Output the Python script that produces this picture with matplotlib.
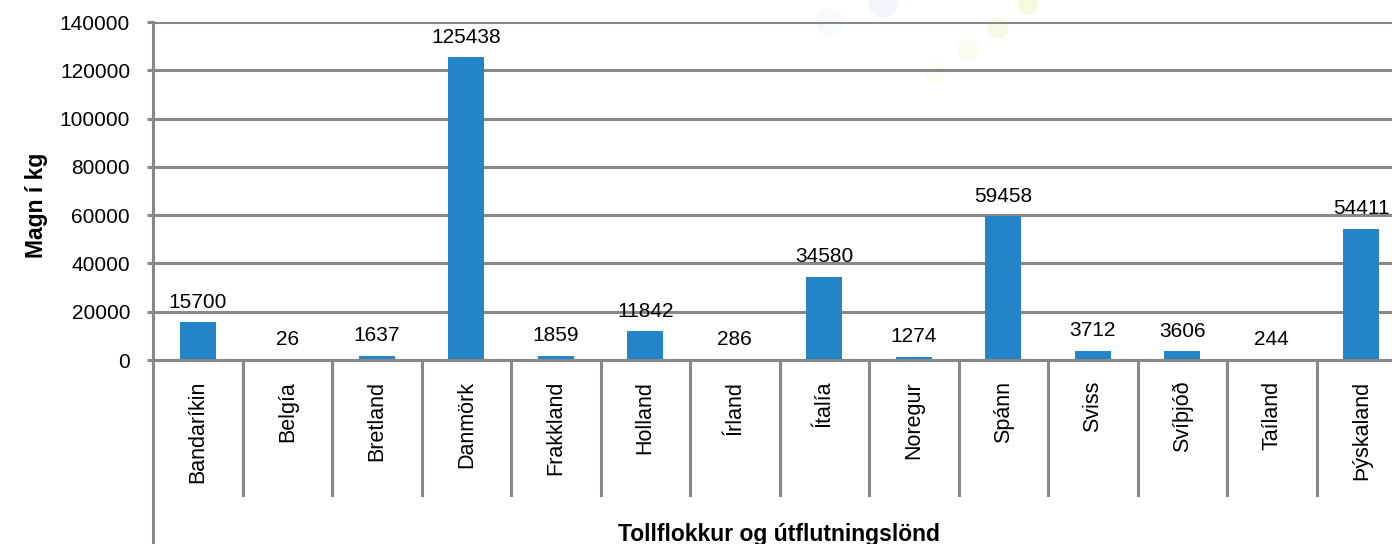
import numpy as np
import matplotlib.pyplot as plt
from matplotlib.patches import Circle
from matplotlib.lines import Line2D
import matplotlib.transforms as mtransforms

lond = ["Bandaríkin", "Belgía", "Bretland", "Danmörk", "Frakkland", "Holland",
        "Írland", "Ítalía", "Noregur", "Spánn", "Sviss", "Svíþjóð", "Taíland",
        "Þýskaland"]
magn = [15700, 26, 1637, 125438, 1859, 11842, 286, 34580, 1274, 59458,
        3712, 3606, 244, 54411]

plt.rcParams['font.family'] = ['Liberation Sans', 'DejaVu Sans']
grar = '#888888'
blar = '#2385C8'
lw = 2.2

W, H = 1392, 544
fig = plt.figure(figsize=(W / 100, H / 100), dpi=100)

# ás: x frá 153 til ~1406 px, y frá 22 til 360 px
x0, x1 = 153, 1406
y0, y1 = 360, 22
ax = fig.add_axes([x0 / W, 1 - y0 / H, (x1 - x0) / W, (y0 - y1) / H])
ax.patch.set_visible(False)

# daufir hringir í bakgrunni
hringir = [(830, 22, 13, '#F7FAFD'), (883, 3, 14, '#F1F6FC'), (1028, 4, 10, '#F7F9E0'),
           (998, 28, 10, '#F8FAE6'), (968, 50, 10, '#F9FBEC'), (935, 73, 10, '#FBFCF2')]
for cx, cy, r, c in hringir:
    fig.patches.append(Circle((cx, H - cy), r, transform=None, color=c, zorder=-5))

x = np.arange(len(lond))
ax.bar(x, magn, width=0.4, color=blar, zorder=3)
for xi, v in zip(x, magn):
    ax.annotate(str(v), (xi, v), xytext=(0, 10.5), textcoords='offset points',
                ha='center', va='baseline', fontsize=15, color='black')

ax.set_xlim(-0.5, len(lond) - 0.5)
ax.set_ylim(0, 140000)
ax.set_yticks(np.arange(0, 140001, 20000))
ax.yaxis.grid(True, color=grar, lw=lw, zorder=0)
ax.set_axisbelow(True)
ax.tick_params(axis='y', length=4.5, width=lw, color=grar, pad=12, labelsize=15)
ax.set_xticks(x)
ax.set_xticklabels(lond, rotation=90, fontsize=15.5, va='top', ha='center')
ax.tick_params(axis='x', length=0, pad=15)

for s in ['top', 'right', 'bottom']:
    ax.spines[s].set_visible(False)
ax.spines['left'].set_color(grar)
ax.spines['left'].set_linewidth(lw)
ax.spines['left'].set_bounds(0, 140000)

# lína neðst og skilalínur milli flokka
trans = mtransforms.blended_transform_factory(ax.transData, ax.transAxes)
ax.add_line(Line2D([-0.5, len(lond)], [0, 0], transform=trans, color=grar,
                   lw=lw, clip_on=False, zorder=4))
nidur = -(495 - y0) / (y0 - y1)
for b in np.arange(0.5, len(lond), 1.0):
    ax.add_line(Line2D([b, b], [0, nidur], transform=trans, color=grar,
                       lw=lw, clip_on=False))
ax.add_line(Line2D([-0.5, -0.5], [0, -(H - y0) / (y0 - y1)], transform=trans,
                   color=grar, lw=lw, clip_on=False))

fig.text(36 / W, 1 - 205 / H, "Magn í kg", rotation=90, ha='center', va='center',
         fontsize=16.5, fontweight='bold')
fig.text(779 / W, 1 - 534 / H, "Tollflokkur og útflutningslönd", ha='center',
         va='center', fontsize=16.5, fontweight='bold')

fig.savefig("out.png", dpi=100)
